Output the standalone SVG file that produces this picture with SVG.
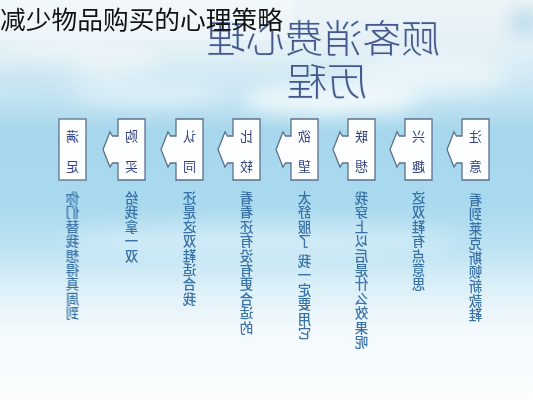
<svg xmlns="http://www.w3.org/2000/svg" width="533" height="400" viewBox="0 0 533 400">
<defs>
<linearGradient id="sky" x1="0" y1="0" x2="0" y2="1">
<stop offset="0" stop-color="#eef5f8"/>
<stop offset="0.12" stop-color="#e3f0f6"/>
<stop offset="0.24" stop-color="#c4e4f2"/>
<stop offset="0.33" stop-color="#a6d7ec"/>
<stop offset="0.5" stop-color="#a8d9ee"/>
<stop offset="0.62" stop-color="#bde3f3"/>
<stop offset="0.72" stop-color="#dcf0f8"/>
<stop offset="0.82" stop-color="#f3f9fc"/>
<stop offset="1" stop-color="#fbfdfe"/>
</linearGradient>
<filter id="blur" x="-50%" y="-50%" width="200%" height="200%"><feGaussianBlur stdDeviation="10"/></filter>
<path id="arrowbox" d="M0,0 H27 V61 H0 V44 H-5.5 L-8,48 L-15,30.5 L-8,13 L-5.5,17 H0 Z"/>
<rect id="plainbox" x="0" y="0" width="27" height="61"/>
</defs>
<style>
.box{fill:#fdfeff;stroke:#5d6f8c;stroke-width:1.3}
.bt{font-family:"Noto Sans CJK SC","Noto Sans CJK TC",sans-serif;font-size:13px;fill:#34427a;text-anchor:middle}
.ct{font-family:"Noto Sans CJK SC","Noto Sans CJK TC",sans-serif;font-size:13.5px;font-weight:500;fill:#3a72a6;text-anchor:middle}
.big{font-family:"Noto Sans CJK SC","Noto Sans CJK TC",sans-serif;font-size:38px;font-weight:300;fill:#2c3c78;fill-opacity:0.85;stroke:#d4e8f2;stroke-width:1.5;paint-order:stroke}
.title{font-family:"Noto Sans CJK SC","Noto Sans CJK TC",sans-serif;font-size:25px;fill:#111111}
</style>
<rect x="0" y="0" width="533" height="400" fill="url(#sky)"/>
<g filter="url(#blur)" fill="#ffffff">
<ellipse cx="330" cy="100" rx="90" ry="14" opacity="0.8"/>
<ellipse cx="150" cy="95" rx="80" ry="10" opacity="0.5"/>
<ellipse cx="430" cy="75" rx="80" ry="20" opacity="0.5"/>
<ellipse cx="260" cy="240" rx="200" ry="14" opacity="0.35"/>
<ellipse cx="80" cy="60" rx="80" ry="18" opacity="0.4"/>
</g>
<g filter="url(#blur)" fill="#9fcde4">
<ellipse cx="525" cy="22" rx="14" ry="12" opacity="0.8"/>
<ellipse cx="40" cy="72" rx="40" ry="8" opacity="0.35"/>
</g>
<rect x="0" y="0" width="293" height="40" fill="#ffffff" opacity="0.3"/>
<g id="bigtitle">
<text class="big" transform="translate(647,0) scale(-1,1)" x="207" y="52" textLength="233" lengthAdjust="spacingAndGlyphs">顾客消费心理</text>
<text class="big" transform="translate(654,0) scale(-1,1)" x="287" y="95" textLength="80" lengthAdjust="spacingAndGlyphs">历程</text>
</g>
<text id="title" class="title" x="0" y="29" textLength="283" lengthAdjust="spacingAndGlyphs">减少物品购买的心理策略</text>
<g id="connectors"></g>
<g id="n-manzu">
<use href="#plainbox" class="box" x="59" y="119"/>
<g transform="translate(72.5,0) scale(-1,1)"><text class="bt"><tspan x="0" y="141">满</tspan><tspan x="0" y="171">足</tspan></text></g>
<g transform="translate(72.5,0) scale(-1,1)"><text class="ct"><tspan x="0" y="203">你</tspan><tspan x="0" y="217.4">们</tspan><tspan x="0" y="231.8">替</tspan><tspan x="0" y="246.2">我</tspan><tspan x="0" y="260.6">想</tspan><tspan x="0" y="275">得</tspan><tspan x="0" y="289.4">真</tspan><tspan x="0" y="303.8">周</tspan><tspan x="0" y="318.2">到</tspan></text></g>
</g>
<g id="n-goumai">
<use href="#arrowbox" class="box" x="118" y="119"/>
<g transform="translate(131.5,0) scale(-1,1)"><text class="bt"><tspan x="0" y="141">购</tspan><tspan x="0" y="171">买</tspan></text></g>
<g transform="translate(131.5,0) scale(-1,1)"><text class="ct"><tspan x="0" y="203">给</tspan><tspan x="0" y="217.4">我</tspan><tspan x="0" y="231.8">拿</tspan><tspan x="0" y="246.2">一</tspan><tspan x="0" y="260.6">双</tspan></text></g>
</g>
<g id="n-rentong">
<use href="#arrowbox" class="box" x="176" y="119"/>
<g transform="translate(189.5,0) scale(-1,1)"><text class="bt"><tspan x="0" y="141">认</tspan><tspan x="0" y="171">同</tspan></text></g>
<g transform="translate(189.5,0) scale(-1,1)"><text class="ct"><tspan x="0" y="203">还</tspan><tspan x="0" y="217.4">是</tspan><tspan x="0" y="231.8">这</tspan><tspan x="0" y="246.2">双</tspan><tspan x="0" y="260.6">鞋</tspan><tspan x="0" y="275">适</tspan><tspan x="0" y="289.4">合</tspan><tspan x="0" y="303.8">我</tspan></text></g>
</g>
<g id="n-bijiao">
<use href="#arrowbox" class="box" x="233" y="119"/>
<g transform="translate(246.5,0) scale(-1,1)"><text class="bt"><tspan x="0" y="141">比</tspan><tspan x="0" y="171">较</tspan></text></g>
<g transform="translate(246.5,0) scale(-1,1)"><text class="ct"><tspan x="0" y="203">看</tspan><tspan x="0" y="217.4">看</tspan><tspan x="0" y="231.8">还</tspan><tspan x="0" y="246.2">有</tspan><tspan x="0" y="260.6">没</tspan><tspan x="0" y="275">有</tspan><tspan x="0" y="289.4">更</tspan><tspan x="0" y="303.8">合</tspan><tspan x="0" y="318.2">适</tspan><tspan x="0" y="332.6">的</tspan></text></g>
</g>
<g id="n-yuwang">
<use href="#arrowbox" class="box" x="291" y="119"/>
<g transform="translate(304.5,0) scale(-1,1)"><text class="bt"><tspan x="0" y="141">欲</tspan><tspan x="0" y="171">望</tspan></text></g>
<g transform="translate(304.5,0) scale(-1,1)"><text class="ct"><tspan x="0" y="203">太</tspan><tspan x="0" y="217.4">舒</tspan><tspan x="0" y="231.8">服</tspan><tspan x="0" y="246.2">了</tspan><tspan x="0" y="266">我</tspan><tspan x="0" y="280.4">一</tspan><tspan x="0" y="294.8">定</tspan><tspan x="0" y="309.2">要</tspan><tspan x="0" y="323.6">用</tspan><tspan x="0" y="338">它</tspan></text></g>
</g>
<g id="n-lianxiang">
<use href="#arrowbox" class="box" x="348" y="119"/>
<g transform="translate(361.5,0) scale(-1,1)"><text class="bt"><tspan x="0" y="141">联</tspan><tspan x="0" y="171">想</tspan></text></g>
<g transform="translate(361.5,0) scale(-1,1)"><text class="ct"><tspan x="0" y="203">我</tspan><tspan x="0" y="217.4">穿</tspan><tspan x="0" y="231.8">上</tspan><tspan x="0" y="246.2">以</tspan><tspan x="0" y="260.6">后</tspan><tspan x="0" y="275">是</tspan><tspan x="0" y="289.4">什</tspan><tspan x="0" y="303.8">么</tspan><tspan x="0" y="318.2">效</tspan><tspan x="0" y="332.6">果</tspan><tspan x="0" y="347">呢</tspan></text></g>
</g>
<g id="n-xingqu">
<use href="#arrowbox" class="box" x="405" y="119"/>
<g transform="translate(418.5,0) scale(-1,1)"><text class="bt"><tspan x="0" y="141">兴</tspan><tspan x="0" y="171">趣</tspan></text></g>
<g transform="translate(418.5,0) scale(-1,1)"><text class="ct"><tspan x="0" y="203">这</tspan><tspan x="0" y="217.4">双</tspan><tspan x="0" y="231.8">鞋</tspan><tspan x="0" y="246.2">有</tspan><tspan x="0" y="260.6">点</tspan><tspan x="0" y="275">意</tspan><tspan x="0" y="289.4">思</tspan></text></g>
</g>
<g id="n-zhuyi">
<use href="#arrowbox" class="box" x="462" y="119"/>
<g transform="translate(475.5,0) scale(-1,1)"><text class="bt"><tspan x="0" y="141">注</tspan><tspan x="0" y="171">意</tspan></text></g>
<g transform="translate(475.5,0) scale(-1,1)"><text class="ct"><tspan x="0" y="205">看</tspan><tspan x="0" y="219.4">到</tspan><tspan x="0" y="233.8">莱</tspan><tspan x="0" y="248.2">克</tspan><tspan x="0" y="262.6">斯</tspan><tspan x="0" y="277">顿</tspan><tspan x="0" y="291.4">新</tspan><tspan x="0" y="305.8">款</tspan><tspan x="0" y="320.2">鞋</tspan></text></g>
</g>
</svg>
